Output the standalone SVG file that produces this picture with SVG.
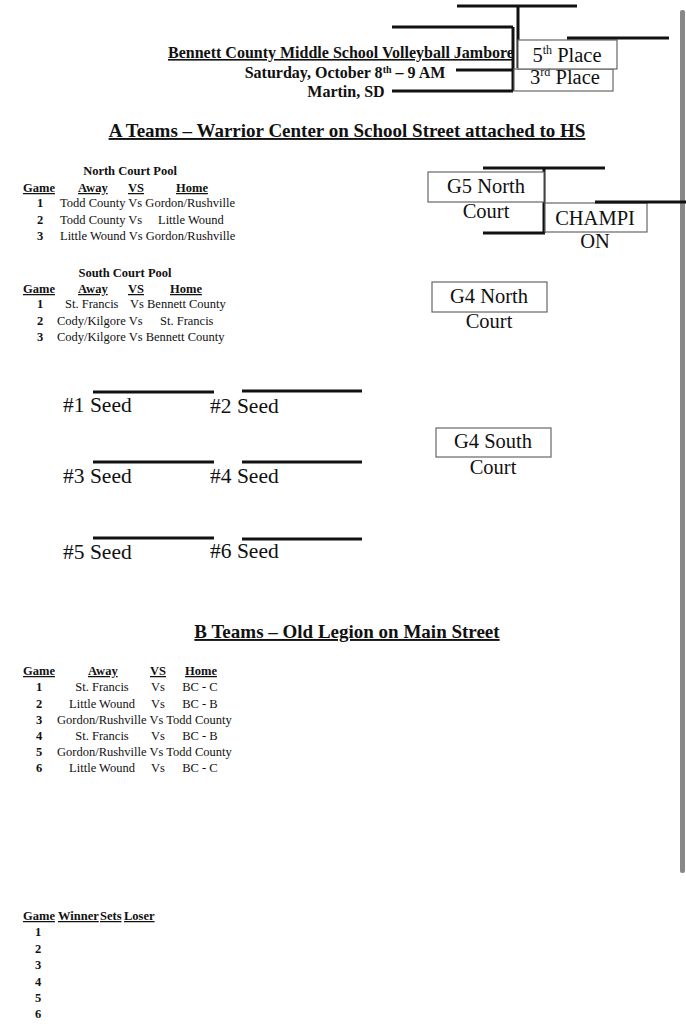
<svg xmlns="http://www.w3.org/2000/svg" width="686" height="1024" viewBox="0 0 686 1024">
<style>
text{font-family:"Liberation Serif","Times New Roman",serif;fill:#111}
.b{font-weight:bold}
.u{text-decoration:underline}
.m{text-anchor:middle}
.t{font-size:12.5px}
.h{font-size:12.5px;font-weight:bold}
.big{font-size:20.5px}
.seed{font-size:21.5px}
.hd{font-size:16px;font-weight:bold}
.sec{font-size:19px;font-weight:bold;text-decoration:underline;text-anchor:middle}
.ln{stroke:#111;stroke-width:3;fill:none}
.box{fill:#fff;stroke:#666;stroke-width:1.2}
</style>
<rect width="686" height="1024" fill="#fff"/>
<g id="connectors">
<line class="ln" x1="457" y1="6" x2="577" y2="6"/>
<line class="ln" x1="518" y1="6" x2="518" y2="68"/>
<line class="ln" x1="392" y1="27" x2="513" y2="27"/>
<line class="ln" x1="513" y1="27" x2="513" y2="91"/>
<line class="ln" x1="456" y1="70" x2="513" y2="70"/>
<line class="ln" x1="392" y1="91" x2="513" y2="91"/>
<line class="ln" x1="483" y1="168" x2="605" y2="168"/>
<line class="ln" x1="544" y1="168" x2="544" y2="233"/>
<line class="ln" x1="483" y1="233" x2="545" y2="233"/>
<line class="ln" x1="93" y1="392" x2="214" y2="392"/>
<line class="ln" x1="242" y1="391" x2="362" y2="391"/>
<line class="ln" x1="93" y1="462" x2="214" y2="462"/>
<line class="ln" x1="242" y1="462" x2="362" y2="462"/>
<line class="ln" x1="93" y1="538" x2="214" y2="538"/>
<line class="ln" x1="242" y1="539" x2="362" y2="539"/>
</g>
<rect x="680" y="10" width="5" height="863" rx="2" fill="#888"/>
<g id="header">
<text x="168" y="58" class="hd u">Bennett County Middle School Volleyball Jambore</text>
<text x="345" y="78" class="hd m">Saturday, October 8<tspan font-size="10" dy="-5">th</tspan><tspan dy="5"> – 9 AM</tspan></text>
<text x="346" y="97" class="hd m">Martin, SD</text>
</g>
<g id="third-place">
<rect class="box" x="514" y="69" width="99" height="22"/>
<text x="565" y="84" class="m big">3<tspan font-size="12" dy="-8">rd</tspan><tspan dy="8"> Place</tspan></text>
</g>
<g id="fifth-place">
<rect class="box" x="518" y="40" width="99" height="29"/>
<text x="567" y="62" class="m big">5<tspan font-size="12" dy="-8">th</tspan><tspan dy="8"> Place</tspan></text>
</g>
<line class="ln" x1="567" y1="38" x2="669" y2="38"/>
<g id="a-teams">
<text x="347" y="137" class="sec">A Teams – Warrior Center on School Street attached to HS</text>
</g>
<g id="north-pool">
<text x="130" y="175" class="h m">North Court Pool</text>
<text x="23" y="192" class="h u">Game</text>
<text x="78" y="192" class="h u">Away</text>
<text x="128" y="192" class="h u">VS</text>
<text x="176" y="192" class="h u">Home</text>
<text x="40" y="207" class="h m">1</text>
<text x="60" y="207" class="t">Todd County Vs Gordon/Rushville</text>
<text x="40" y="223.5" class="h m">2</text>
<text x="60" y="223.5" class="t">Todd County Vs</text>
<text x="158" y="223.5" class="t">Little Wound</text>
<text x="40" y="240" class="h m">3</text>
<text x="60" y="240" class="t">Little Wound Vs Gordon/Rushville</text>
</g>
<g id="south-pool">
<text x="125" y="277" class="h m">South Court Pool</text>
<text x="23" y="293" class="h u">Game</text>
<text x="78" y="293" class="h u">Away</text>
<text x="128" y="293" class="h u">VS</text>
<text x="170" y="293" class="h u">Home</text>
<text x="40" y="308" class="h m">1</text>
<text x="65" y="308" class="t">St. Francis</text>
<text x="130" y="308" class="t">Vs Bennett County</text>
<text x="40" y="324.5" class="h m">2</text>
<text x="57" y="324.5" class="t">Cody/Kilgore Vs</text>
<text x="160" y="324.5" class="t">St. Francis</text>
<text x="40" y="341" class="h m">3</text>
<text x="57" y="341" class="t">Cody/Kilgore Vs Bennett County</text>
</g>
<g id="g5-north">
<rect class="box" x="428" y="172" width="116" height="30"/>
<text x="486" y="193" class="m big">G5 North</text>
<text x="486" y="218" class="m big">Court</text>
</g>
<g id="champion">
<rect class="box" x="545" y="203" width="102" height="29"/>
<text x="595" y="225" class="m big">CHAMPI</text>
<text x="595" y="248" class="m big">ON</text>
</g>
<line class="ln" x1="595" y1="202" x2="686" y2="202"/>
<g id="g4-north">
<rect class="box" x="432" y="282" width="115" height="30"/>
<text x="489" y="303" class="m big">G4 North</text>
<text x="489" y="328" class="m big">Court</text>
</g>
<g id="g4-south">
<rect class="box" x="436" y="428" width="115" height="29"/>
<text x="493" y="448" class="m big">G4 South</text>
<text x="493" y="474" class="m big">Court</text>
</g>
<g id="seeds">
<text x="63" y="412" class="seed">#1 Seed</text>
<text x="210" y="413" class="seed">#2 Seed</text>
<text x="63" y="483" class="seed">#3 Seed</text>
<text x="210" y="483" class="seed">#4 Seed</text>
<text x="63" y="559" class="seed">#5 Seed</text>
<text x="210" y="558" class="seed">#6 Seed</text>
</g>
<g id="b-teams">
<text x="347" y="638" class="sec">B Teams – Old Legion on Main Street</text>
<text x="23" y="675" class="h u">Game</text>
<text x="88" y="675" class="h u">Away</text>
<text x="150" y="675" class="h u">VS</text>
<text x="185" y="675" class="h u">Home</text>
<text x="39" y="691" class="h m">1</text>
<text x="102" y="691" class="t m">St. Francis</text>
<text x="158" y="691" class="t m">Vs</text>
<text x="200" y="691" class="t m">BC - C</text>
<text x="39" y="707.5" class="h m">2</text>
<text x="102" y="707.5" class="t m">Little Wound</text>
<text x="158" y="707.5" class="t m">Vs</text>
<text x="200" y="707.5" class="t m">BC - B</text>
<text x="39" y="723.5" class="h m">3</text>
<text x="57" y="723.5" class="t">Gordon/Rushville Vs Todd County</text>
<text x="39" y="740" class="h m">4</text>
<text x="102" y="740" class="t m">St. Francis</text>
<text x="158" y="740" class="t m">Vs</text>
<text x="200" y="740" class="t m">BC - B</text>
<text x="39" y="756" class="h m">5</text>
<text x="57" y="756" class="t">Gordon/Rushville Vs Todd County</text>
<text x="39" y="772" class="h m">6</text>
<text x="102" y="772" class="t m">Little Wound</text>
<text x="158" y="772" class="t m">Vs</text>
<text x="200" y="772" class="t m">BC - C</text>
</g>
<g id="results">
<text x="23" y="920" class="h u">Game</text>
<text x="58" y="920" class="h u">Winner</text>
<text x="100" y="920" class="h u">Sets</text>
<text x="124" y="920" class="h u">Loser</text>
<text x="38" y="936" class="h m">1</text>
<text x="38" y="952.5" class="h m">2</text>
<text x="38" y="969" class="h m">3</text>
<text x="38" y="985.5" class="h m">4</text>
<text x="38" y="1002" class="h m">5</text>
<text x="38" y="1018" class="h m">6</text>
</g>
</svg>
